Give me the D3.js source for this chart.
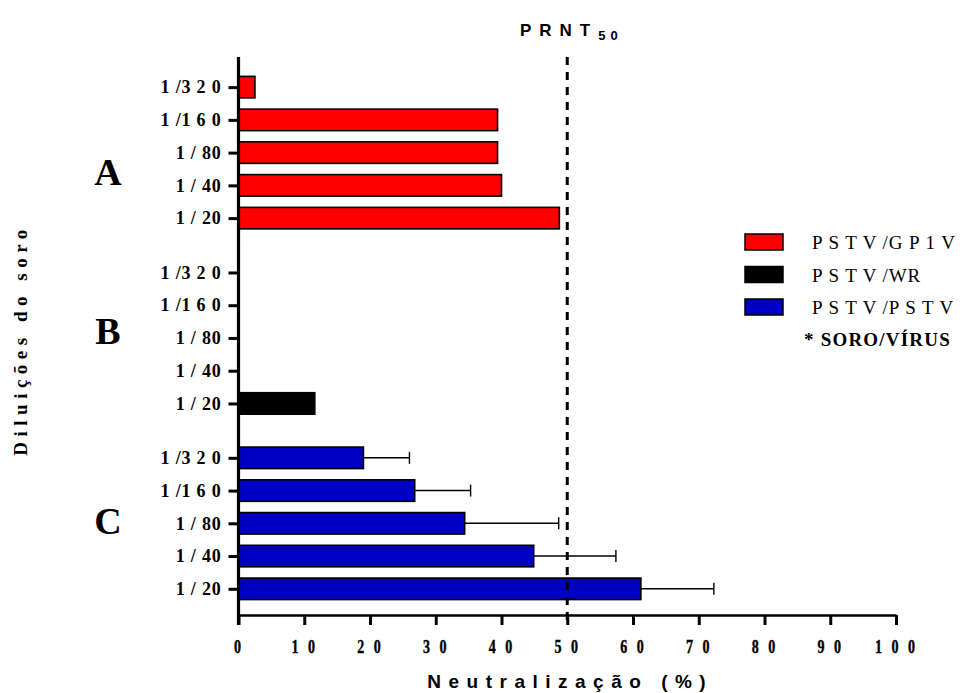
<!DOCTYPE html>
<html>
<head>
<meta charset="utf-8">
<script src="https://cdn.jsdelivr.net/npm/d3@7"></script>
<style>
  body { margin: 0; background: #fff; }
  text { white-space: pre; }
</style>
</head>
<body>
<svg id="chart" width="968" height="693"></svg>
<script>
// data
var groups = ['A', 'B', 'C'];
var dilutions = ['1/320', '1/160', '1/80', '1/40', '1/20'];
var tickLabels = ['1 /3 2 0', '1 /1 6 0', '1 / 80', '1 / 40', '1 / 20'];
var valuesA = [2.5, 39.4, 39.4, 40.0, 48.8];   // PSTV/GP1V
var valuesB = [0, 0, 0, 0, 11.6];              // PSTV/WR
var valuesC = [19.0, 26.8, 34.4, 44.9, 61.2];  // PSTV/PSTV
var errorsC = [7.0, 8.5, 14.3, 12.5, 11.1];
var xTicks = [0, 10, 20, 30, 40, 50, 60, 70, 80, 90, 100];
var legendNames = ['P S T V /G P 1 V', 'P S T V /WR', 'P S T V /P S T V'];
var colors = ['#ff0000', '#000000', '#0000c4'];
var groupGap = 0.66;
var threshold = 50;

var margin = { top: 57, left: 238.5 };
var width = 657.5;
var height = 558;

var svg = d3.select('#chart').append('g')
  .attr('transform', 'translate(' + margin.left + ', ' + margin.top + ')');

var xScale = d3.scaleLinear()
  .domain([0, 100])
  .range([0, width]);

// row index: group g, dilution i
function rowIndex(g, i) {
  return g * (dilutions.length + groupGap) + i;
}
var yScale = d3.scaleLinear()
  .domain([-0.92, 16.12])
  .range([0, height]);

var barH = 21.5;

var rows = [];
[valuesA, valuesB, valuesC].forEach(function (vals, g) {
  vals.forEach(function (v, i) {
    rows.push({ g: g, i: i, value: v, err: g === 2 ? errorsC[i] : null });
  });
});

// bars
svg.selectAll('rect.bar')
  .data(rows.filter(function (d) { return d.value > 0; }))
  .enter()
  .append('rect')
  .attr('class', 'bar')
  .attr('x', xScale(0))
  .attr('y', function (d) { return yScale(rowIndex(d.g, d.i)) - barH / 2; })
  .attr('width', function (d) { return xScale(d.value) - xScale(0); })
  .attr('height', barH)
  .attr('fill', function (d) { return colors[d.g]; })
  .attr('stroke', '#000')
  .attr('stroke-width', 1.6);

// error bars (group C)
var errRows = rows.filter(function (d) { return d.err !== null; });
svg.selectAll('line.err')
  .data(errRows)
  .enter()
  .append('line')
  .attr('class', 'err')
  .attr('x1', function (d) { return xScale(d.value); })
  .attr('x2', function (d) { return xScale(d.value + d.err); })
  .attr('y1', function (d) { return yScale(rowIndex(d.g, d.i)); })
  .attr('y2', function (d) { return yScale(rowIndex(d.g, d.i)); })
  .attr('stroke', '#000')
  .attr('stroke-width', 1.4);
svg.selectAll('line.cap')
  .data(errRows)
  .enter()
  .append('line')
  .attr('class', 'cap')
  .attr('x1', function (d) { return xScale(d.value + d.err); })
  .attr('x2', function (d) { return xScale(d.value + d.err); })
  .attr('y1', function (d) { return yScale(rowIndex(d.g, d.i)) - 6; })
  .attr('y2', function (d) { return yScale(rowIndex(d.g, d.i)) + 6; })
  .attr('stroke', '#000')
  .attr('stroke-width', 1.4);

// x axis
var xAxis = d3.axisBottom(xScale)
  .tickValues(xTicks)
  .tickSize(10)
  .tickSizeOuter(0)
  .tickPadding(15)
  .tickFormat(function (d) { return String(d).split('').join(' '); });
var gx = svg.append('g')
  .attr('transform', 'translate(0, ' + height + ')')
  .call(xAxis);
gx.select('.domain').attr('stroke-width', 2.5);
gx.selectAll('.tick line').attr('stroke-width', 3);
gx.selectAll('.tick text')
  .attr('font-family', 'Liberation Serif')
  .attr('font-weight', 'bold')
  .attr('font-size', '18px')
  .attr('letter-spacing', '3.8px')
  .attr('transform', 'scale(0.78,1)')
  .attr('stroke', '#000')
  .attr('stroke-width', 0.4)
  .attr('fill', '#000');

// y axis
var yTickVals = [];
groups.forEach(function (g, gi) {
  dilutions.forEach(function (d, i) { yTickVals.push(rowIndex(gi, i)); });
});
var yAxis = d3.axisLeft(yScale)
  .tickValues(yTickVals)
  .tickSize(10)
  .tickSizeOuter(0)
  .tickPadding(7)
  .tickFormat(function (d, k) { return tickLabels[k % dilutions.length]; });
var gy = svg.append('g').call(yAxis);
gy.select('.domain').remove();
gy.append('line')
  .attr('x1', 0).attr('x2', 0)
  .attr('y1', 0).attr('y2', height + 10)
  .attr('stroke', '#000')
  .attr('stroke-width', 3.2);
gy.selectAll('.tick line').attr('stroke-width', 3);
gy.selectAll('.tick text')
  .attr('font-family', 'Liberation Serif')
  .attr('font-weight', 'bold')
  .attr('font-size', '18px')
  .attr('letter-spacing', '0.8px')
  .attr('fill', '#000');

// PRNT50 threshold line
svg.append('line')
  .attr('x1', xScale(threshold)).attr('x2', xScale(threshold))
  .attr('y1', 0).attr('y2', height + 10)
  .attr('stroke', '#000')
  .attr('stroke-width', 3)
  .attr('stroke-dasharray', '8,7');

// group letters
var letterOffsets = [19, -7, -3];
svg.selectAll('text.group')
  .data(groups)
  .enter()
  .append('text')
  .attr('class', 'group')
  .attr('x', 108 - margin.left)
  .attr('y', function (d, g) { return yScale(rowIndex(g, 2)) + letterOffsets[g]; })
  .attr('dy', '0.35em')
  .attr('text-anchor', 'middle')
  .attr('font-family', 'Liberation Serif')
  .attr('font-weight', 'bold')
  .attr('font-size', '38px')
  .text(function (d) { return d; });

// title
var title = svg.append('text')
  .attr('x', xScale(threshold) + 4)
  .attr('y', 36 - margin.top)
  .attr('text-anchor', 'middle')
  .attr('font-family', 'Liberation Sans')
  .attr('font-weight', 'bold')
  .attr('font-size', '17px')
  .attr('letter-spacing', '8px');
title.append('tspan').text('PRNT');
title.append('tspan').attr('font-size', '13px').attr('letter-spacing', '5px').attr('dy', 4).text('50');

// x label
svg.append('text')
  .attr('x', xScale(threshold) + 3)
  .attr('y', 688 - margin.top)
  .attr('text-anchor', 'middle')
  .attr('font-family', 'Liberation Sans')
  .attr('font-weight', 'bold')
  .attr('font-size', '19px')
  .attr('letter-spacing', '7.5px')
  .text('Neutralização (%)');

// y label
svg.append('text')
  .attr('transform', 'rotate(-90)')
  .attr('x', -(340 - margin.top))
  .attr('y', 27 - margin.left)
  .attr('text-anchor', 'middle')
  .attr('font-family', 'Liberation Serif')
  .attr('font-weight', 'bold')
  .attr('font-size', '19px')
  .attr('letter-spacing', '5.5px')
  .text('Diluições do soro');

// legend
var legend = d3.select('#chart').append('g')
  .attr('transform', 'translate(745, 234)');
var lg = legend.selectAll('g.item')
  .data(legendNames)
  .enter()
  .append('g')
  .attr('class', 'item')
  .attr('transform', function (d, i) { return 'translate(0,' + (i * 32.5) + ')'; });
lg.append('rect')
  .attr('width', 38)
  .attr('height', 16)
  .attr('fill', function (d, i) { return colors[i]; })
  .attr('stroke', '#000')
  .attr('stroke-width', 1.5);
lg.append('text')
  .attr('x', 67)
  .attr('y', 15)
  .attr('font-family', 'Liberation Serif')
  .attr('font-size', '19px')
  .attr('letter-spacing', '0.9px')
  .text(function (d) { return d; });
legend.append('text')
  .attr('x', 59)
  .attr('y', 112)
  .attr('font-family', 'Liberation Serif')
  .attr('font-weight', 'bold')
  .attr('font-size', '19px')
  .attr('letter-spacing', '1.2px')
  .text('* SORO/VÍRUS');
</script>
</body>
</html>
